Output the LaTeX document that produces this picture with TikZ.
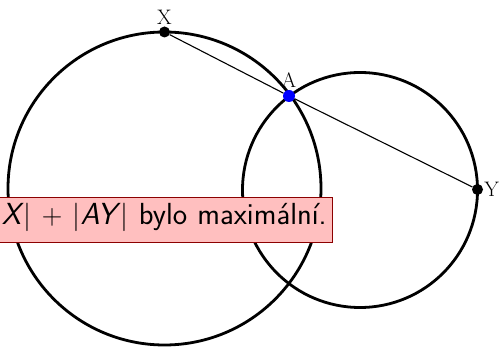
\documentclass[tikz,border=0pt]{standalone}
\usepackage{fix-cm}
\usepackage{fontspec}
\usepackage{tikz}
\usetikzlibrary{positioning}
\DeclareMathSizes{30.5}{28.5}{20}{15}

\begin{document}
\begin{tikzpicture}[
    x=1pt, y=-1pt,
    node distance=2pt,
    ring/.style={line width=2.8pt},
    chord/.style={line width=1.1pt},
    dot/.style={circle, fill=black, inner sep=0pt, minimum size=11pt},
    lbl/.style={inner sep=1pt, font=\fontsize{21}{25}\selectfont},
    note/.style={draw=red!55!black, fill=red!25, line width=0.8pt,
        font=\fontsize{30.5}{36}\sffamily, text width=400pt, align=right,
        text height=18pt, text depth=7pt,
        minimum height=45pt, inner ysep=0pt, inner xsep=6pt}
]
    \clip (0,0) rectangle (501,347);
    % the two circles
    \coordinate (o1) at (164.5,188.5);
    \coordinate (o2) at (360,190);
    \draw[ring] (o1) circle[radius=156.5];
    \draw[ring] (o2) circle[radius=117.5];

    % chord through A
    \node[dot] (X) at (164.5,32) {};
    \node[dot, fill=blue, minimum size=12pt] (A) at (289,96) {};
    \node[dot] (Y) at (477.5,189.5) {};
    \draw[chord] (X) -- (A) -- (Y);

    \node[lbl, above=1pt of X] (lX) {X};
    \node[lbl, above=1pt of A] (lA) {A};
    \node[lbl, right=0pt of Y] (lY) {Y};

    \node[note, anchor=east] (msg) at (333,219.5)
        {\textit{X}$|+|$\textit{AY}$|$ bylo maximální.};
\end{tikzpicture}
\end{document}
